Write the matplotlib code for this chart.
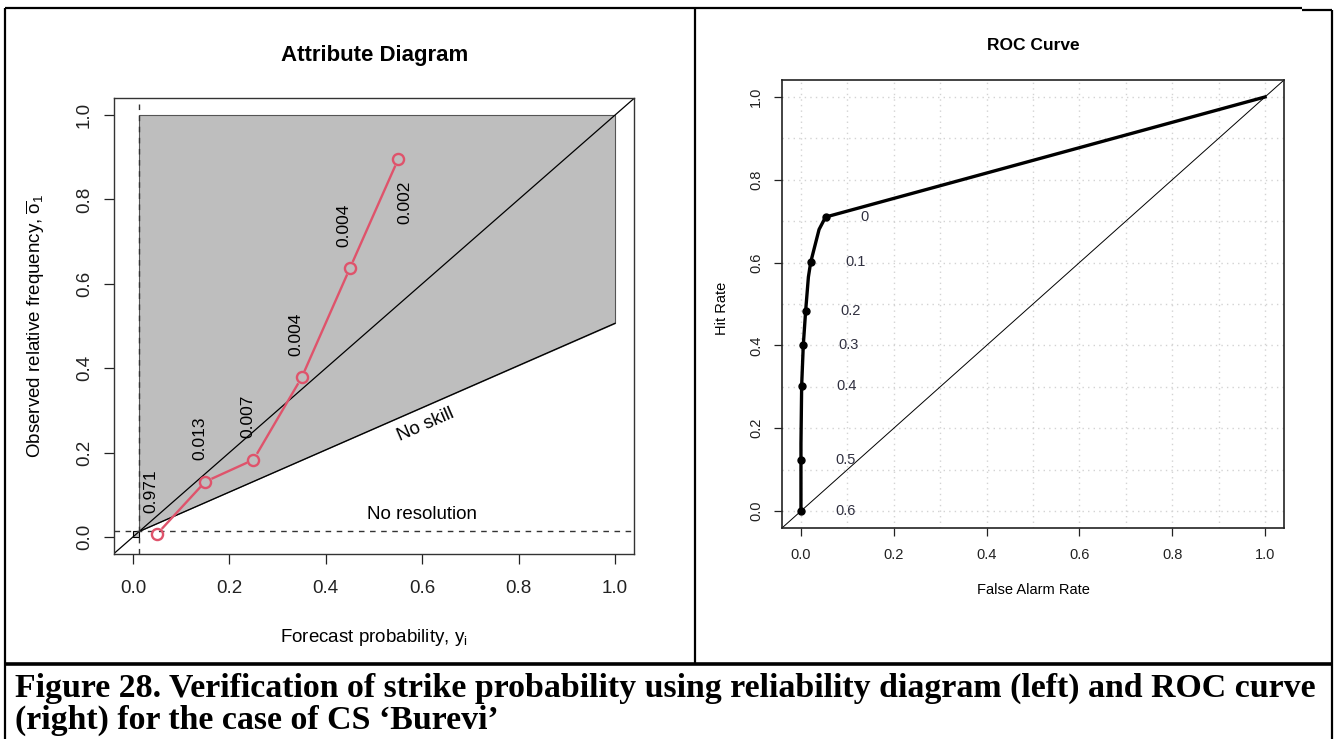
import numpy as np
import matplotlib
matplotlib.use("Agg")
import matplotlib.pyplot as plt
from matplotlib.lines import Line2D

plt.rcParams['font.family'] = ['Liberation Sans', 'DejaVu Sans']
plt.rcParams['mathtext.fontset'] = 'custom'
plt.rcParams['mathtext.rm'] = 'Liberation Sans'
plt.rcParams['mathtext.it'] = 'Liberation Sans:italic'
plt.rcParams['mathtext.bf'] = 'Liberation Sans:bold'

# ---- attribute diagram data ----
clim = 0.013
fc_prob = [0.05, 0.15, 0.25, 0.35, 0.45, 0.55]
obs_freq = [0.007, 0.131, 0.183, 0.378, 0.637, 0.895]
fc_share = ['0.971', '0.013', '0.007', '0.004', '0.004', '0.002']
share_side = [1, 1, 1, 1, 1, -1]

# ---- ROC data ----
far_line = [0.0, 0.0, 0.0, 0.0015, 0.005, 0.010, 0.016, 0.021, 0.039, 0.053, 1.0]
hr_line = [0.0, 0.123, 0.162, 0.303, 0.400, 0.482, 0.565, 0.601, 0.680, 0.710, 1.0]
far_pts = [0.053, 0.021, 0.010, 0.005, 0.0015, 0.0, 0.0]
hr_pts = [0.710, 0.601, 0.482, 0.400, 0.303, 0.123, 0.0]
thresholds = ['0', '0.1', '0.2', '0.3', '0.4', '0.5', '0.6']

W, H = 1334, 739
fig = plt.figure(figsize=(W / 100, H / 100), dpi=100)


def px_rect(x0, y0, x1, y1):
    return [x0 / W, 1 - y1 / H, (x1 - x0) / W, (y1 - y0) / H]


def fline(xs, ys, lw):
    fig.add_artist(Line2D([x / W for x in xs], [1 - y / H for y in ys],
                          transform=fig.transFigure, color='black', lw=lw,
                          solid_capstyle='butt'))


# table borders
fline([5, 1302], [8, 8], 1.6)
fline([1302, 1332], [10, 10], 1.6)
fline([5, 5], [8, 739], 1.6)
fline([1332, 1332], [10, 739], 1.6)
fline([695, 695], [8, 664], 1.6)
fline([5, 1332], [664, 664], 2.6)

red = '#DF536B'
dash = (0, (4, 4))

# ================= left: attribute diagram =================
ax1 = fig.add_axes(px_rect(113.7, 98.2, 634.3, 553.8))
ax1.set_xlim(-0.04, 1.04)
ax1.set_ylim(-0.04, 1.04)

ax1.fill([clim, clim, 1, 1], [clim, 1, 1, (1 + clim) / 2],
         facecolor='#BEBEBE', edgecolor='#555555', lw=0.8, zorder=1)
ax1.fill([0, clim, clim, 0], [0, 0, clim, clim], facecolor='#BEBEBE',
         edgecolor='black', lw=0.8, zorder=1)
ax1.plot([-0.04, 1.04], [-0.04, 1.04], color='black', lw=0.9, zorder=2)
ax1.plot([clim, 1], [clim, (1 + clim) / 2], color='black', lw=0.9, zorder=2)
ax1.axhline(clim, color='#333333', lw=1.0, linestyle=dash, zorder=2)
ax1.axvline(clim, color='#333333', lw=1.0, linestyle=dash, zorder=2)

# reliability curve, R type="b" (gaps around points)
pts = ax1.transData.transform(np.column_stack([fc_prob, obs_freq]))
inv = ax1.transData.inverted()
gap = 8
for p, q in zip(pts[:-1], pts[1:]):
    d = q - p
    u = d / np.hypot(*d)
    a, b = inv.transform(np.array([p + u * gap, q - u * gap]))
    ax1.plot([a[0], b[0]], [a[1], b[1]], color=red, lw=1.7, zorder=3)
ax1.plot(fc_prob, obs_freq, 'o', ms=8, mfc='none', mec=red, mew=1.7, zorder=4)

for x, y, s, side in zip(fc_prob, obs_freq, fc_share, share_side):
    dx = -0.012 if side > 0 else 0.015
    ax1.text(x + dx, y + 0.102 * side, s, rotation=90, ha='center', va='center',
             fontsize=12.5, zorder=5)

# "No skill" text along the no-skill line
p0 = ax1.transData.transform((clim, clim))
p1 = ax1.transData.transform((1, (1 + clim) / 2))
ang = np.degrees(np.arctan2(p1[1] - p0[1], p1[0] - p0[0]))
ax1.text(0.608, 0.266, 'No skill', rotation=ang, rotation_mode='anchor',
         ha='center', va='center', fontsize=13.5)
ax1.text(0.600, 0.052, 'No resolution', ha='center', va='center', fontsize=13.5)

ax1.set_xticks([0, 0.2, 0.4, 0.6, 0.8, 1.0])
ax1.set_yticks([0, 0.2, 0.4, 0.6, 0.8, 1.0])
ax1.set_xticklabels(['0.0', '0.2', '0.4', '0.6', '0.8', '1.0'])
ax1.set_yticklabels(['0.0', '0.2', '0.4', '0.6', '0.8', '1.0'])
ax1.tick_params(axis='both', length=7, width=0.9, labelsize=13.5, colors='#222222')
ax1.tick_params(axis='x', pad=12)
ax1.tick_params(axis='y', pad=8, labelrotation=90)
for lbl in ax1.get_yticklabels():
    lbl.set_va('center')
for sp in ax1.spines.values():
    sp.set_linewidth(1.0)
    sp.set_color('#333333')

ax1.set_xlabel(r'Forecast probability, $\mathrm{y}_\mathrm{i}$', fontsize=13.5)
ax1.set_ylabel(r'Observed relative frequency, $\overline{\mathrm{o}}_\mathrm{1}$', fontsize=13.5)
ax1.xaxis.set_label_coords(0.5, -0.16)
ax1.yaxis.set_label_coords(-0.128, 0.5)
fig.text(375 / W, 1 - 55 / H, 'Attribute Diagram', ha='center', va='center',
         fontsize=16, fontweight='bold')

# ================= right: ROC curve =================
ax2 = fig.add_axes(px_rect(782.4, 80.4, 1283.6, 527.6))
ax2.set_xlim(-0.04, 1.04)
ax2.set_ylim(-0.04, 1.04)
grid_pos = np.arange(0, 1.01, 0.1)
for g in grid_pos:
    ax2.axvline(g, color='#D3D3D3', lw=1.0, linestyle=(0, (1, 3)), zorder=0)
    ax2.axhline(g, color='#D3D3D3', lw=1.0, linestyle=(0, (1, 3)), zorder=0)
ax2.plot([-0.04, 1.04], [-0.04, 1.04], color='black', lw=0.7, zorder=1)
ax2.plot(far_line, hr_line, color='black', lw=2.4, zorder=2)
ax2.plot(far_pts, hr_pts, 'o', color='black', ms=5, zorder=3)
for x, y, s in zip(far_pts, hr_pts, thresholds):
    ax2.text(x + 0.075, y, s, ha='left', va='center', fontsize=10.5, color='#303040')

ax2.set_xticks([0, 0.2, 0.4, 0.6, 0.8, 1.0])
ax2.set_yticks([0, 0.2, 0.4, 0.6, 0.8, 1.0])
ax2.set_xticklabels(['0.0', '0.2', '0.4', '0.6', '0.8', '1.0'])
ax2.set_yticklabels(['0.0', '0.2', '0.4', '0.6', '0.8', '1.0'])
ax2.tick_params(axis='both', length=6, width=0.9, labelsize=10.5, colors='#222222')
ax2.tick_params(axis='x', pad=9)
ax2.tick_params(axis='y', pad=8, labelrotation=90)
for lbl in ax2.get_yticklabels():
    lbl.set_va('center')
for sp in ax2.spines.values():
    sp.set_linewidth(1.2)
    sp.set_color('#222222')
ax2.set_xlabel('False Alarm Rate', fontsize=10.5)
ax2.set_ylabel('Hit Rate', fontsize=10.5)
ax2.xaxis.set_label_coords(0.5, -0.125)
ax2.yaxis.set_label_coords(-0.106, 0.49)
fig.text(1033 / W, 1 - 46 / H, 'ROC Curve', ha='center', va='center',
         fontsize=12.5, fontweight='bold')

# ================= caption =================
cap1 = 'Figure 28. Verification of strike probability using reliability diagram (left) and ROC curve'
cap2 = '(right) for the case of CS \u2018Burevi\u2019'
t1 = fig.text(15 / W, 1 - 688 / H, cap1, ha='left', va='center', fontsize=20,
              fontweight='bold', family=['Liberation Serif', 'DejaVu Serif'])
r = fig.canvas.get_renderer()
wpx = t1.get_window_extent(r).width
fs = 20 * (1303 / wpx)
t1.set_fontsize(fs)
fig.text(15 / W, 1 - 720 / H, cap2, ha='left', va='center', fontsize=fs,
         fontweight='bold', family=['Liberation Serif', 'DejaVu Serif'])

fig.savefig('out.png', dpi=100)
